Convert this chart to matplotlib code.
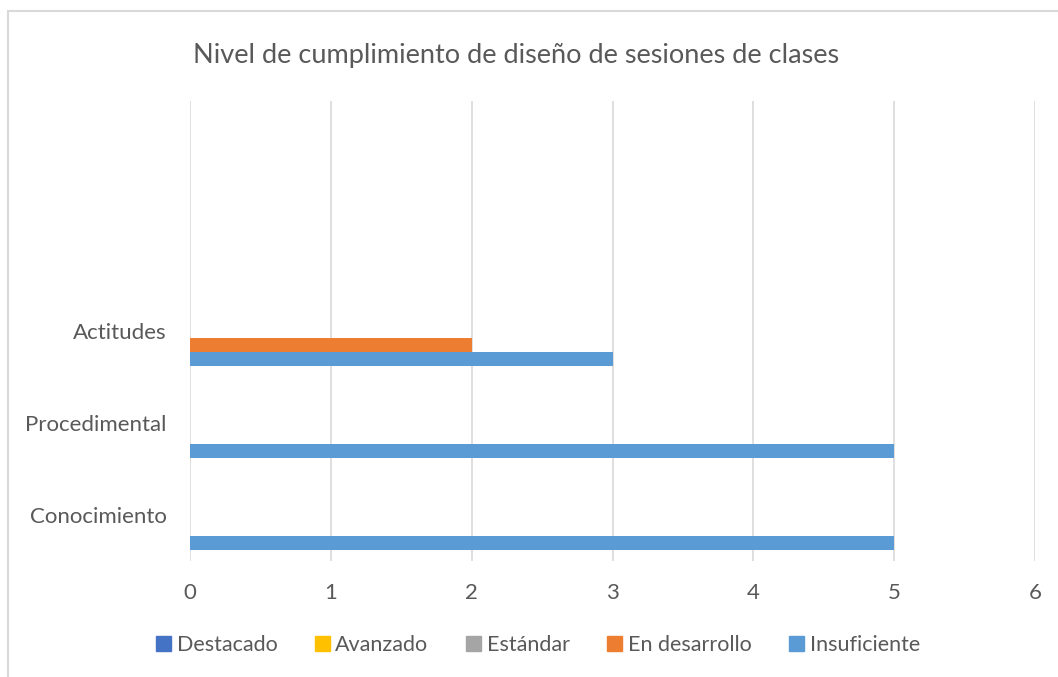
import matplotlib
matplotlib.use("Agg")
import matplotlib.pyplot as plt
from matplotlib.patches import Rectangle, Patch
import numpy as np

# datos
categorias = ["Conocimiento", "Procedimental", "Actitudes"]
series = ["Destacado", "Avanzado", "Estándar", "En desarrollo", "Insuficiente"]
destacado = [0, 0, 0]
avanzado = [0, 0, 0]
estandar = [0, 0, 0]
en_desarrollo = [0, 0, 2]
insuficiente = [5, 5, 3]
colores = ["#4472C4", "#FFC000", "#A5A5A5", "#ED7D31", "#5B9BD5"]
titulo = "Nivel de cumplimiento de diseño de sesiones de clases"

plt.rcParams["font.family"] = ["Lato", "DejaVu Sans"]
gris = "#595959"

W, H = 1058, 677
fig = plt.figure(figsize=(W / 100, H / 100), dpi=100)
ax = fig.add_axes([190 / W, 116 / H, (1035 - 190) / W, (561 - 101) / H])

valores = [destacado, avanzado, estandar, en_desarrollo, insuficiente]
alto = 14 / 92
y = np.arange(len(categorias))
# Excel dibuja la ultima serie abajo dentro de cada grupo
for i, (nombre, vals, col) in enumerate(zip(series, valores, colores)):
    offset = (2 - i) * alto
    ax.barh(y + offset, vals, height=alto, color=col, label=nombre, zorder=3)

ax.set_xlim(0, 6)
ax.set_ylim(-0.5, 4.5)
ax.set_xticks(range(7))
ax.set_yticks(y)
ax.set_yticklabels(categorias)
ax.tick_params(axis="both", length=0, labelsize=16, colors=gris)
ax.tick_params(axis="x", pad=16)
ax.tick_params(axis="y", pad=17)
ax.grid(axis="x", color="#d9d9d9", linewidth=1.2, zorder=0)
for s in ax.spines.values():
    s.set_visible(False)

fig.text(516 / W, 1 - 55 / H, titulo, ha="center", va="center",
         fontsize=19.5, color=gris)

handles = [Patch(color=c) for c in colores]
fig.legend(handles, series, loc="center", bbox_to_anchor=(538 / W, 1 - 645 / H),
           ncol=5, frameon=False, fontsize=15.5, labelcolor=gris,
           handlelength=0.7, handleheight=0.7, handletextpad=0.25,
           columnspacing=1.75)

# borde del area del grafico
fig.add_artist(Rectangle((8 / W, -0.1), 1.2, (H - 11) / H + 0.1,
                         transform=fig.transFigure, fill=False,
                         edgecolor="#d9d9d9", linewidth=1.5))

fig.savefig("out.png", dpi=100)
